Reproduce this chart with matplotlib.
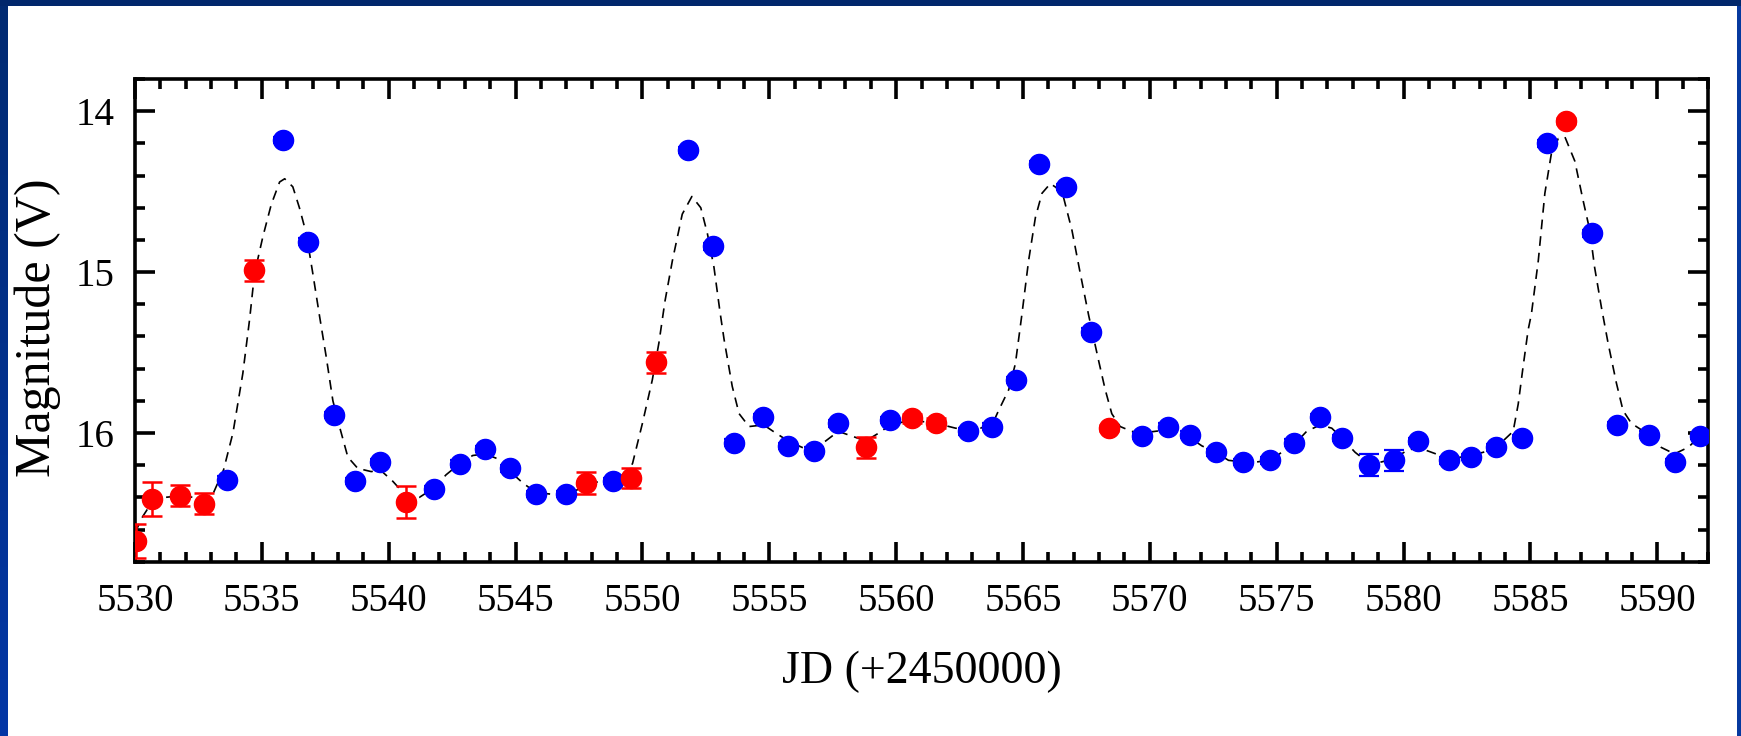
import matplotlib
matplotlib.use("Agg")
import matplotlib.pyplot as plt
from matplotlib.patches import Rectangle
from matplotlib.ticker import MultipleLocator
from matplotlib.colors import LinearSegmentedColormap
import numpy as np

# ---- data ----
blue_jd = [5533.64, 5535.84, 5536.81, 5537.84, 5538.69, 5539.67, 5541.80, 5542.81,
           5543.79, 5544.79, 5545.80, 5546.98, 5548.86, 5551.80, 5552.78, 5553.62,
           5554.76, 5555.75, 5556.75, 5557.72, 5559.77, 5562.83, 5563.78, 5564.74,
           5565.62, 5566.71, 5567.69, 5569.69, 5570.71, 5571.59, 5572.60, 5573.69,
           5574.74, 5575.70, 5576.71, 5577.56, 5578.65, 5579.63, 5580.58, 5581.80,
           5582.65, 5583.65, 5584.65, 5585.67, 5587.42, 5588.40, 5589.66, 5590.68,
           5591.70]
blue_mag = [16.29, 14.18, 14.81, 15.89, 16.30, 16.18, 16.35, 16.19,
            16.10, 16.22, 16.38, 16.38, 16.30, 14.24, 14.84, 16.06,
            15.90, 16.08, 16.11, 15.94, 15.92, 15.99, 15.96, 15.67,
            14.33, 14.47, 15.37, 16.02, 15.96, 16.01, 16.12, 16.18,
            16.17, 16.06, 15.90, 16.03, 16.20, 16.17, 16.05, 16.17,
            16.15, 16.09, 16.03, 14.20, 14.76, 15.95, 16.01, 16.18,
            16.02]
blue_err = [0.02] * len(blue_jd)
blue_err[36] = 0.068
blue_err[37] = 0.064

red_jd = [5530.03, 5530.67, 5531.79, 5532.72, 5534.71, 5540.68, 5547.77, 5549.54,
          5550.53, 5558.80, 5560.61, 5561.58, 5568.41, 5586.41]
red_mag = [16.67, 16.41, 16.39, 16.44, 14.99, 16.43, 16.31, 16.28,
           15.56, 16.09, 15.91, 15.94, 15.97, 14.06]
red_err = [0.105, 0.107, 0.066, 0.065, 0.066, 0.10, 0.07, 0.065,
           0.066, 0.066, 0.03, 0.03, 0.02, 0.02]

fit_jd = [5530.00, 5530.30, 5530.67, 5531.20, 5531.79, 5532.30, 5532.72, 5533.07,
          5533.49, 5533.86, 5534.25, 5534.52, 5534.71, 5535.04, 5535.37, 5535.70,
          5535.90, 5536.22, 5536.48, 5536.75, 5537.01, 5537.27, 5537.53, 5537.80,
          5538.06, 5538.39, 5538.78, 5539.31, 5539.67, 5540.16, 5540.62, 5541.21,
          5541.80, 5542.26, 5542.80, 5543.31, 5543.79, 5544.29, 5544.79, 5545.28,
          5545.80, 5546.39, 5547.00, 5547.64, 5548.29, 5548.86, 5549.35, 5549.61,
          5550.00, 5550.39, 5550.65, 5550.89, 5551.18, 5551.57, 5551.95, 5552.30,
          5552.56, 5552.82, 5553.06, 5553.22, 5553.54, 5553.81, 5554.20, 5554.78,
          5555.25, 5555.75, 5556.30, 5556.75, 5557.22, 5557.72, 5558.27, 5558.80,
          5559.32, 5559.77, 5560.60, 5561.58, 5562.34, 5562.83, 5563.32, 5563.78,
          5564.04, 5564.44, 5564.70, 5564.96, 5565.22, 5565.49, 5565.75, 5566.08,
          5566.54, 5566.93, 5567.26, 5567.59, 5567.98, 5568.24, 5568.50, 5568.83,
          5569.29, 5569.69, 5570.21, 5570.71, 5571.13, 5571.59, 5572.05, 5572.60,
          5573.10, 5573.69, 5574.21, 5574.74, 5575.20, 5575.70, 5576.18, 5576.71,
          5577.17, 5577.56, 5578.09, 5578.65, 5579.13, 5579.63, 5580.12, 5580.58,
          5581.10, 5581.80, 5582.28, 5582.65, 5583.14, 5583.65, 5584.12, 5584.32,
          5584.52, 5584.71, 5584.91, 5585.04, 5585.31, 5585.57, 5585.83, 5586.10,
          5586.36, 5586.75, 5587.07, 5587.34, 5587.53, 5587.80, 5588.06, 5588.39,
          5588.65, 5588.98, 5589.66, 5590.16, 5590.68, 5591.21, 5591.70, 5592.00]
fit_mag = [16.62, 16.52, 16.43, 16.40, 16.39, 16.40, 16.41, 16.38,
           16.23, 16.00, 15.63, 15.29, 15.01, 14.78, 14.58, 14.44,
           14.42, 14.47, 14.60, 14.76, 15.01, 15.27, 15.52, 15.80,
           15.96, 16.15, 16.22, 16.24, 16.23, 16.30, 16.38, 16.40,
           16.34, 16.26, 16.19, 16.14, 16.13, 16.16, 16.24, 16.31,
           16.37, 16.38, 16.38, 16.34, 16.30, 16.29, 16.25, 16.19,
           15.94, 15.67, 15.44, 15.18, 14.93, 14.64, 14.53, 14.60,
           14.76, 14.97, 15.25, 15.42, 15.71, 15.88, 15.96, 15.95,
           16.00, 16.05, 16.09, 16.09, 16.05, 15.99, 16.02, 16.05,
           16.00, 15.95, 15.92, 15.94, 15.97, 15.98, 15.97, 15.95,
           15.86, 15.73, 15.57, 15.26, 14.93, 14.66, 14.51, 14.45,
           14.50, 14.74, 15.01, 15.27, 15.55, 15.73, 15.88, 15.96,
           15.99, 16.00, 15.99, 15.98, 16.00, 16.03, 16.08, 16.12,
           16.17, 16.18, 16.18, 16.17, 16.12, 16.07, 15.99, 15.95,
           15.97, 16.03, 16.12, 16.19, 16.18, 16.16, 16.11, 16.09,
           16.12, 16.16, 16.15, 16.14, 16.12, 16.09, 16.02, 15.99,
           15.82, 15.59, 15.36, 15.26, 14.93, 14.51, 14.26, 14.17,
           14.16, 14.31, 14.55, 14.74, 14.97, 15.22, 15.44, 15.69,
           15.86, 15.94, 16.01, 16.09, 16.13, 16.09, 16.02, 15.98]

x_major_ticks = [5530, 5535, 5540, 5545, 5550, 5555, 5560, 5565, 5570, 5575, 5580, 5585, 5590]
y_major_ticks = [14, 15, 16]

# ---- figure ----
plt.rcParams['font.family'] = ['Liberation Serif', 'DejaVu Serif']
plt.rcParams['lines.scale_dashes'] = False

W, H = 1741, 736
fig = plt.figure(figsize=(W / 100, H / 100), dpi=100)
fig.patch.set_facecolor('white')

# blue frame around the slide
top_h, left_w, right_w = 6, 8, 4
fig.patches.append(Rectangle((0, 1 - top_h / H), 1, top_h / H, transform=fig.transFigure,
                             facecolor='#01276c', edgecolor='none', zorder=0))
grad_ax = fig.add_axes([0, 0, left_w / W, 1 - top_h / H])
grad = np.linspace(0, 1, 256).reshape(-1, 1)
cmap = LinearSegmentedColormap.from_list('fr', ['#0437a6', '#012a72'])
grad_ax.imshow(grad, aspect='auto', cmap=cmap, origin='lower')
grad_ax.axis('off')
fig.patches.append(Rectangle((1 - right_w / W, 0), right_w / W, 1 - top_h / H,
                             transform=fig.transFigure, facecolor='#06399f',
                             edgecolor='none', zorder=0))

L, R, T, B = 135, 1708, 79, 561.7
ax = fig.add_axes([L / W, 1 - B / H, (R - L) / W, (B - T) / H])

ax.plot(fit_jd, fit_mag, color='black', lw=1.2, dashes=(7, 5), zorder=1)

ax.errorbar(blue_jd, blue_mag, yerr=blue_err, fmt='o', color='#0000ff', ms=14.5,
            mec='#0000ff', ecolor='#0000ff', elinewidth=1.6, capsize=7, capthick=1.6,
            zorder=3)
ax.errorbar(red_jd, red_mag, yerr=red_err, fmt='o', color='#ff0000', ms=14.5,
            mec='#ff0000', ecolor='#ff0000', elinewidth=1.8, capsize=7.5, capthick=1.8,
            zorder=3)

ax.set_xlim(5530, 5592)
ax.set_ylim(16.8, 13.8)

ax.set_xticks(x_major_ticks)
ax.set_yticks(y_major_ticks)
ax.xaxis.set_minor_locator(MultipleLocator(1))
ax.yaxis.set_minor_locator(MultipleLocator(0.2))

for s in ax.spines.values():
    s.set_linewidth(2.6)
ax.tick_params(which='both', direction='in', top=True, right=True, width=2.6)
ax.tick_params(which='major', length=14.5, labelsize=28, pad=15)
ax.tick_params(which='minor', length=7.5)

ax.set_xlabel('JD (+2450000)', fontsize=33)
ax.xaxis.set_label_coords(0.5, -0.185)
ax.set_ylabel('Magnitude (V)', fontsize=36)
ax.yaxis.set_label_coords(-0.047, 0.485)

fig.savefig('out.png', dpi=100, facecolor='white')
